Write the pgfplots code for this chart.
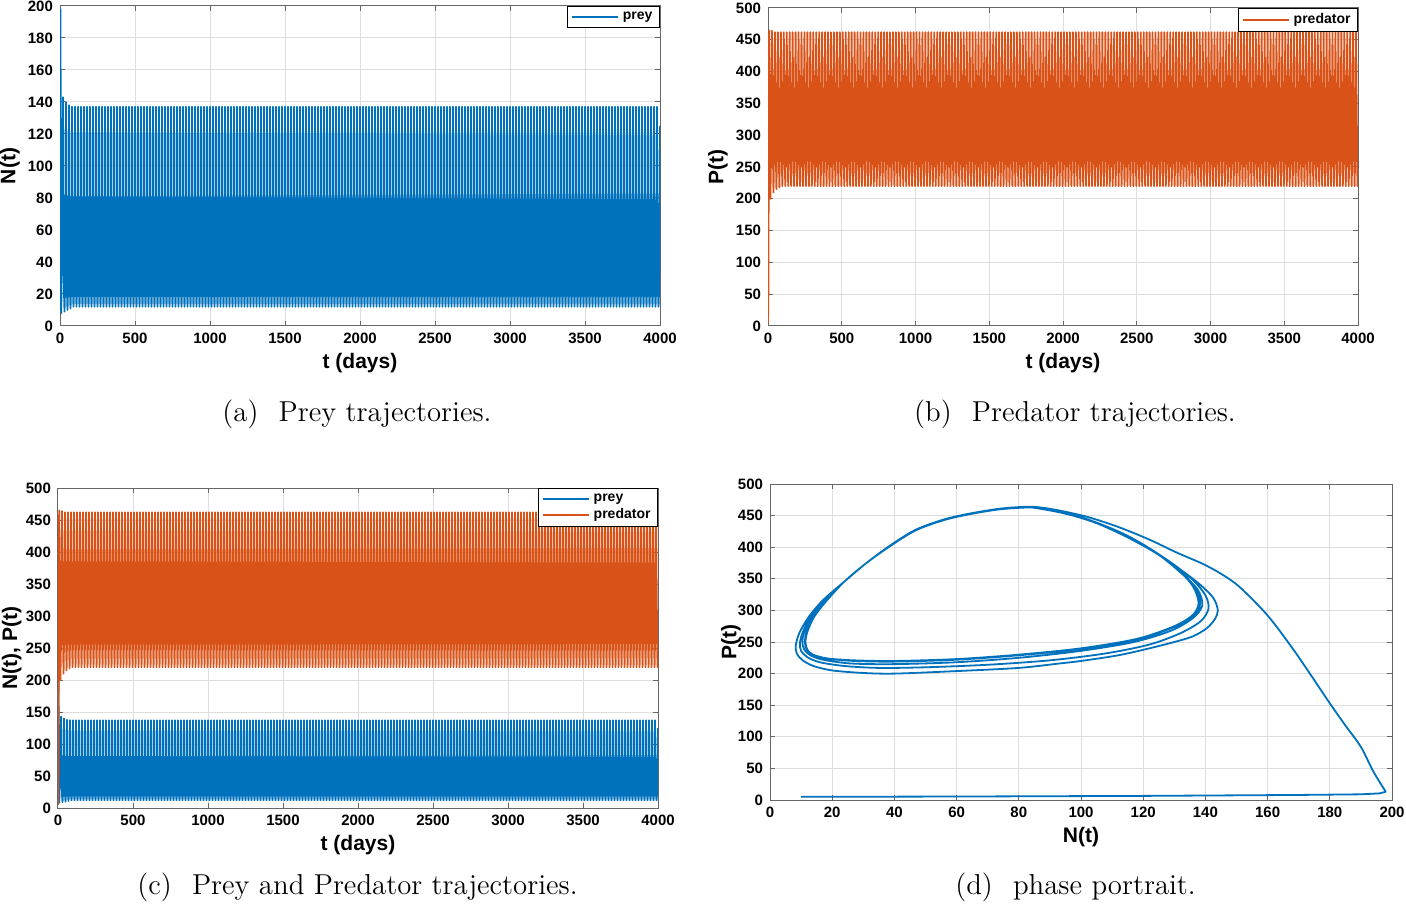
\documentclass[border=0pt]{standalone}
\usepackage{pgfplots}
\usepackage{pgfplotstable}
\pgfplotsset{compat=1.18}
\usepackage{fontspec}
\newfontfamily\hv{Liberation Sans}
\newcommand\fticks{\hv\bfseries\fontsize{7.5}{9}\selectfont}
\newcommand\flabel{\hv\bfseries\fontsize{10.5}{12}\selectfont}
\newcommand\flegend{\hv\bfseries\fontsize{7}{8}\selectfont}
\definecolor{mblue}{RGB}{0,114,189}
\definecolor{morange}{RGB}{217,83,25}

% prey N(t)
\pgfplotstableread[row sep=\\]{
t y\\
0 10\\ 3 198\\ 8 8\\ 16 65\\ 20 143\\ 23 65\\ 27 20\\ 30 9\\ 33 20\\ 37 65\\ 40 140\\ 43 65\\ 47 20\\ 50 10\\ 53 20\\ 57 65\\ 60 138\\ 63 65\\ 67 20\\ 70 11\\ 73 20\\ 77 65\\ 80 137\\ 83 65\\ 87 20\\ 90 12\\ 93 20\\ 97 65\\
100 137\\ 103 65\\ 107 20\\ 110 12\\ 113 20\\ 117 65\\ 120 137\\ 123 65\\ 127 20\\ 130 12\\ 133 20\\ 137 65\\ 140 137\\ 143 65\\ 147 20\\ 150 12\\ 153 20\\ 157 65\\ 160 137\\ 163 65\\ 167 20\\ 170 12\\ 173 20\\ 177 65\\ 180 137\\ 183 65\\ 187 20\\ 190 12\\ 193 20\\ 197 65\\
200 137\\ 203 65\\ 207 20\\ 210 12\\ 213 20\\ 217 65\\ 220 137\\ 223 65\\ 227 20\\ 230 12\\ 233 20\\ 237 65\\ 240 137\\ 243 65\\ 247 20\\ 250 12\\ 253 20\\ 257 65\\ 260 137\\ 263 65\\ 267 20\\ 270 12\\ 273 20\\ 277 65\\ 280 137\\ 283 65\\ 287 20\\ 290 12\\ 293 20\\ 297 65\\
300 137\\ 303 65\\ 307 20\\ 310 12\\ 313 20\\ 317 65\\ 320 137\\ 323 65\\ 327 20\\ 330 12\\ 333 20\\ 337 65\\ 340 137\\ 343 65\\ 347 20\\ 350 12\\ 353 20\\ 357 65\\ 360 137\\ 363 65\\ 367 20\\ 370 12\\ 373 20\\ 377 65\\ 380 137\\ 383 65\\ 387 20\\ 390 12\\ 393 20\\ 397 65\\
400 137\\ 403 65\\ 407 20\\ 410 12\\ 413 20\\ 417 65\\ 420 137\\ 423 65\\ 427 20\\ 430 12\\ 433 20\\ 437 65\\ 440 137\\ 443 65\\ 447 20\\ 450 12\\ 453 20\\ 457 65\\ 460 137\\ 463 65\\ 467 20\\ 470 12\\ 473 20\\ 477 65\\ 480 137\\ 483 65\\ 487 20\\ 490 12\\ 493 20\\ 497 65\\
500 137\\ 503 65\\ 507 20\\ 510 12\\ 513 20\\ 517 65\\ 520 137\\ 523 65\\ 527 20\\ 530 12\\ 533 20\\ 537 65\\ 540 137\\ 543 65\\ 547 20\\ 550 12\\ 553 20\\ 557 65\\ 560 137\\ 563 65\\ 567 20\\ 570 12\\ 573 20\\ 577 65\\ 580 137\\ 583 65\\ 587 20\\ 590 12\\ 593 20\\ 597 65\\
600 137\\ 603 65\\ 607 20\\ 610 12\\ 613 20\\ 617 65\\ 620 137\\ 623 65\\ 627 20\\ 630 12\\ 633 20\\ 637 65\\ 640 137\\ 643 65\\ 647 20\\ 650 12\\ 653 20\\ 657 65\\ 660 137\\ 663 65\\ 667 20\\ 670 12\\ 673 20\\ 677 65\\ 680 137\\ 683 65\\ 687 20\\ 690 12\\ 693 20\\ 697 65\\
700 137\\ 703 65\\ 707 20\\ 710 12\\ 713 20\\ 717 65\\ 720 137\\ 723 65\\ 727 20\\ 730 12\\ 733 20\\ 737 65\\ 740 137\\ 743 65\\ 747 20\\ 750 12\\ 753 20\\ 757 65\\ 760 137\\ 763 65\\ 767 20\\ 770 12\\ 773 20\\ 777 65\\ 780 137\\ 783 65\\ 787 20\\ 790 12\\ 793 20\\ 797 65\\
800 137\\ 803 65\\ 807 20\\ 810 12\\ 813 20\\ 817 65\\ 820 137\\ 823 65\\ 827 20\\ 830 12\\ 833 20\\ 837 65\\ 840 137\\ 843 65\\ 847 20\\ 850 12\\ 853 20\\ 857 65\\ 860 137\\ 863 65\\ 867 20\\ 870 12\\ 873 20\\ 877 65\\ 880 137\\ 883 65\\ 887 20\\ 890 12\\ 893 20\\ 897 65\\
900 137\\ 903 65\\ 907 20\\ 910 12\\ 913 20\\ 917 65\\ 920 137\\ 923 65\\ 927 20\\ 930 12\\ 933 20\\ 937 65\\ 940 137\\ 943 65\\ 947 20\\ 950 12\\ 953 20\\ 957 65\\ 960 137\\ 963 65\\ 967 20\\ 970 12\\ 973 20\\ 977 65\\ 980 137\\ 983 65\\ 987 20\\ 990 12\\ 993 20\\ 997 65\\
1000 137\\ 1003 65\\ 1007 20\\ 1010 12\\ 1013 20\\ 1017 65\\ 1020 137\\ 1023 65\\ 1027 20\\ 1030 12\\ 1033 20\\ 1037 65\\ 1040 137\\ 1043 65\\ 1047 20\\ 1050 12\\ 1053 20\\ 1057 65\\ 1060 137\\ 1063 65\\ 1067 20\\ 1070 12\\ 1073 20\\ 1077 65\\ 1080 137\\ 1083 65\\ 1087 20\\ 1090 12\\ 1093 20\\ 1097 65\\
1100 137\\ 1103 65\\ 1107 20\\ 1110 12\\ 1113 20\\ 1117 65\\ 1120 137\\ 1123 65\\ 1127 20\\ 1130 12\\ 1133 20\\ 1137 65\\ 1140 137\\ 1143 65\\ 1147 20\\ 1150 12\\ 1153 20\\ 1157 65\\ 1160 137\\ 1163 65\\ 1167 20\\ 1170 12\\ 1173 20\\ 1177 65\\ 1180 137\\ 1183 65\\ 1187 20\\ 1190 12\\ 1193 20\\ 1197 65\\
1200 137\\ 1203 65\\ 1207 20\\ 1210 12\\ 1213 20\\ 1217 65\\ 1220 137\\ 1223 65\\ 1227 20\\ 1230 12\\ 1233 20\\ 1237 65\\ 1240 137\\ 1243 65\\ 1247 20\\ 1250 12\\ 1253 20\\ 1257 65\\ 1260 137\\ 1263 65\\ 1267 20\\ 1270 12\\ 1273 20\\ 1277 65\\ 1280 137\\ 1283 65\\ 1287 20\\ 1290 12\\ 1293 20\\ 1297 65\\
1300 137\\ 1303 65\\ 1307 20\\ 1310 12\\ 1313 20\\ 1317 65\\ 1320 137\\ 1323 65\\ 1327 20\\ 1330 12\\ 1333 20\\ 1337 65\\ 1340 137\\ 1343 65\\ 1347 20\\ 1350 12\\ 1353 20\\ 1357 65\\ 1360 137\\ 1363 65\\ 1367 20\\ 1370 12\\ 1373 20\\ 1377 65\\ 1380 137\\ 1383 65\\ 1387 20\\ 1390 12\\ 1393 20\\ 1397 65\\
1400 137\\ 1403 65\\ 1407 20\\ 1410 12\\ 1413 20\\ 1417 65\\ 1420 137\\ 1423 65\\ 1427 20\\ 1430 12\\ 1433 20\\ 1437 65\\ 1440 137\\ 1443 65\\ 1447 20\\ 1450 12\\ 1453 20\\ 1457 65\\ 1460 137\\ 1463 65\\ 1467 20\\ 1470 12\\ 1473 20\\ 1477 65\\ 1480 137\\ 1483 65\\ 1487 20\\ 1490 12\\ 1493 20\\ 1497 65\\
1500 137\\ 1503 65\\ 1507 20\\ 1510 12\\ 1513 20\\ 1517 65\\ 1520 137\\ 1523 65\\ 1527 20\\ 1530 12\\ 1533 20\\ 1537 65\\ 1540 137\\ 1543 65\\ 1547 20\\ 1550 12\\ 1553 20\\ 1557 65\\ 1560 137\\ 1563 65\\ 1567 20\\ 1570 12\\ 1573 20\\ 1577 65\\ 1580 137\\ 1583 65\\ 1587 20\\ 1590 12\\ 1593 20\\ 1597 65\\
1600 137\\ 1603 65\\ 1607 20\\ 1610 12\\ 1613 20\\ 1617 65\\ 1620 137\\ 1623 65\\ 1627 20\\ 1630 12\\ 1633 20\\ 1637 65\\ 1640 137\\ 1643 65\\ 1647 20\\ 1650 12\\ 1653 20\\ 1657 65\\ 1660 137\\ 1663 65\\ 1667 20\\ 1670 12\\ 1673 20\\ 1677 65\\ 1680 137\\ 1683 65\\ 1687 20\\ 1690 12\\ 1693 20\\ 1697 65\\
1700 137\\ 1703 65\\ 1707 20\\ 1710 12\\ 1713 20\\ 1717 65\\ 1720 137\\ 1723 65\\ 1727 20\\ 1730 12\\ 1733 20\\ 1737 65\\ 1740 137\\ 1743 65\\ 1747 20\\ 1750 12\\ 1753 20\\ 1757 65\\ 1760 137\\ 1763 65\\ 1767 20\\ 1770 12\\ 1773 20\\ 1777 65\\ 1780 137\\ 1783 65\\ 1787 20\\ 1790 12\\ 1793 20\\ 1797 65\\
1800 137\\ 1803 65\\ 1807 20\\ 1810 12\\ 1813 20\\ 1817 65\\ 1820 137\\ 1823 65\\ 1827 20\\ 1830 12\\ 1833 20\\ 1837 65\\ 1840 137\\ 1843 65\\ 1847 20\\ 1850 12\\ 1853 20\\ 1857 65\\ 1860 137\\ 1863 65\\ 1867 20\\ 1870 12\\ 1873 20\\ 1877 65\\ 1880 137\\ 1883 65\\ 1887 20\\ 1890 12\\ 1893 20\\ 1897 65\\
1900 137\\ 1903 65\\ 1907 20\\ 1910 12\\ 1913 20\\ 1917 65\\ 1920 137\\ 1923 65\\ 1927 20\\ 1930 12\\ 1933 20\\ 1937 65\\ 1940 137\\ 1943 65\\ 1947 20\\ 1950 12\\ 1953 20\\ 1957 65\\ 1960 137\\ 1963 65\\ 1967 20\\ 1970 12\\ 1973 20\\ 1977 65\\ 1980 137\\ 1983 65\\ 1987 20\\ 1990 12\\ 1993 20\\ 1997 65\\
2000 137\\ 2003 65\\ 2007 20\\ 2010 12\\ 2013 20\\ 2017 65\\ 2020 137\\ 2023 65\\ 2027 20\\ 2030 12\\ 2033 20\\ 2037 65\\ 2040 137\\ 2043 65\\ 2047 20\\ 2050 12\\ 2053 20\\ 2057 65\\ 2060 137\\ 2063 65\\ 2067 20\\ 2070 12\\ 2073 20\\ 2077 65\\ 2080 137\\ 2083 65\\ 2087 20\\ 2090 12\\ 2093 20\\ 2097 65\\
2100 137\\ 2103 65\\ 2107 20\\ 2110 12\\ 2113 20\\ 2117 65\\ 2120 137\\ 2123 65\\ 2127 20\\ 2130 12\\ 2133 20\\ 2137 65\\ 2140 137\\ 2143 65\\ 2147 20\\ 2150 12\\ 2153 20\\ 2157 65\\ 2160 137\\ 2163 65\\ 2167 20\\ 2170 12\\ 2173 20\\ 2177 65\\ 2180 137\\ 2183 65\\ 2187 20\\ 2190 12\\ 2193 20\\ 2197 65\\
2200 137\\ 2203 65\\ 2207 20\\ 2210 12\\ 2213 20\\ 2217 65\\ 2220 137\\ 2223 65\\ 2227 20\\ 2230 12\\ 2233 20\\ 2237 65\\ 2240 137\\ 2243 65\\ 2247 20\\ 2250 12\\ 2253 20\\ 2257 65\\ 2260 137\\ 2263 65\\ 2267 20\\ 2270 12\\ 2273 20\\ 2277 65\\ 2280 137\\ 2283 65\\ 2287 20\\ 2290 12\\ 2293 20\\ 2297 65\\
2300 137\\ 2303 65\\ 2307 20\\ 2310 12\\ 2313 20\\ 2317 65\\ 2320 137\\ 2323 65\\ 2327 20\\ 2330 12\\ 2333 20\\ 2337 65\\ 2340 137\\ 2343 65\\ 2347 20\\ 2350 12\\ 2353 20\\ 2357 65\\ 2360 137\\ 2363 65\\ 2367 20\\ 2370 12\\ 2373 20\\ 2377 65\\ 2380 137\\ 2383 65\\ 2387 20\\ 2390 12\\ 2393 20\\ 2397 65\\
2400 137\\ 2403 65\\ 2407 20\\ 2410 12\\ 2413 20\\ 2417 65\\ 2420 137\\ 2423 65\\ 2427 20\\ 2430 12\\ 2433 20\\ 2437 65\\ 2440 137\\ 2443 65\\ 2447 20\\ 2450 12\\ 2453 20\\ 2457 65\\ 2460 137\\ 2463 65\\ 2467 20\\ 2470 12\\ 2473 20\\ 2477 65\\ 2480 137\\ 2483 65\\ 2487 20\\ 2490 12\\ 2493 20\\ 2497 65\\
2500 137\\ 2503 65\\ 2507 20\\ 2510 12\\ 2513 20\\ 2517 65\\ 2520 137\\ 2523 65\\ 2527 20\\ 2530 12\\ 2533 20\\ 2537 65\\ 2540 137\\ 2543 65\\ 2547 20\\ 2550 12\\ 2553 20\\ 2557 65\\ 2560 137\\ 2563 65\\ 2567 20\\ 2570 12\\ 2573 20\\ 2577 65\\ 2580 137\\ 2583 65\\ 2587 20\\ 2590 12\\ 2593 20\\ 2597 65\\
2600 137\\ 2603 65\\ 2607 20\\ 2610 12\\ 2613 20\\ 2617 65\\ 2620 137\\ 2623 65\\ 2627 20\\ 2630 12\\ 2633 20\\ 2637 65\\ 2640 137\\ 2643 65\\ 2647 20\\ 2650 12\\ 2653 20\\ 2657 65\\ 2660 137\\ 2663 65\\ 2667 20\\ 2670 12\\ 2673 20\\ 2677 65\\ 2680 137\\ 2683 65\\ 2687 20\\ 2690 12\\ 2693 20\\ 2697 65\\
2700 137\\ 2703 65\\ 2707 20\\ 2710 12\\ 2713 20\\ 2717 65\\ 2720 137\\ 2723 65\\ 2727 20\\ 2730 12\\ 2733 20\\ 2737 65\\ 2740 137\\ 2743 65\\ 2747 20\\ 2750 12\\ 2753 20\\ 2757 65\\ 2760 137\\ 2763 65\\ 2767 20\\ 2770 12\\ 2773 20\\ 2777 65\\ 2780 137\\ 2783 65\\ 2787 20\\ 2790 12\\ 2793 20\\ 2797 65\\
2800 137\\ 2803 65\\ 2807 20\\ 2810 12\\ 2813 20\\ 2817 65\\ 2820 137\\ 2823 65\\ 2827 20\\ 2830 12\\ 2833 20\\ 2837 65\\ 2840 137\\ 2843 65\\ 2847 20\\ 2850 12\\ 2853 20\\ 2857 65\\ 2860 137\\ 2863 65\\ 2867 20\\ 2870 12\\ 2873 20\\ 2877 65\\ 2880 137\\ 2883 65\\ 2887 20\\ 2890 12\\ 2893 20\\ 2897 65\\
2900 137\\ 2903 65\\ 2907 20\\ 2910 12\\ 2913 20\\ 2917 65\\ 2920 137\\ 2923 65\\ 2927 20\\ 2930 12\\ 2933 20\\ 2937 65\\ 2940 137\\ 2943 65\\ 2947 20\\ 2950 12\\ 2953 20\\ 2957 65\\ 2960 137\\ 2963 65\\ 2967 20\\ 2970 12\\ 2973 20\\ 2977 65\\ 2980 137\\ 2983 65\\ 2987 20\\ 2990 12\\ 2993 20\\ 2997 65\\
3000 137\\ 3003 65\\ 3007 20\\ 3010 12\\ 3013 20\\ 3017 65\\ 3020 137\\ 3023 65\\ 3027 20\\ 3030 12\\ 3033 20\\ 3037 65\\ 3040 137\\ 3043 65\\ 3047 20\\ 3050 12\\ 3053 20\\ 3057 65\\ 3060 137\\ 3063 65\\ 3067 20\\ 3070 12\\ 3073 20\\ 3077 65\\ 3080 137\\ 3083 65\\ 3087 20\\ 3090 12\\ 3093 20\\ 3097 65\\
3100 137\\ 3103 65\\ 3107 20\\ 3110 12\\ 3113 20\\ 3117 65\\ 3120 137\\ 3123 65\\ 3127 20\\ 3130 12\\ 3133 20\\ 3137 65\\ 3140 137\\ 3143 65\\ 3147 20\\ 3150 12\\ 3153 20\\ 3157 65\\ 3160 137\\ 3163 65\\ 3167 20\\ 3170 12\\ 3173 20\\ 3177 65\\ 3180 137\\ 3183 65\\ 3187 20\\ 3190 12\\ 3193 20\\ 3197 65\\
3200 137\\ 3203 65\\ 3207 20\\ 3210 12\\ 3213 20\\ 3217 65\\ 3220 137\\ 3223 65\\ 3227 20\\ 3230 12\\ 3233 20\\ 3237 65\\ 3240 137\\ 3243 65\\ 3247 20\\ 3250 12\\ 3253 20\\ 3257 65\\ 3260 137\\ 3263 65\\ 3267 20\\ 3270 12\\ 3273 20\\ 3277 65\\ 3280 137\\ 3283 65\\ 3287 20\\ 3290 12\\ 3293 20\\ 3297 65\\
3300 137\\ 3303 65\\ 3307 20\\ 3310 12\\ 3313 20\\ 3317 65\\ 3320 137\\ 3323 65\\ 3327 20\\ 3330 12\\ 3333 20\\ 3337 65\\ 3340 137\\ 3343 65\\ 3347 20\\ 3350 12\\ 3353 20\\ 3357 65\\ 3360 137\\ 3363 65\\ 3367 20\\ 3370 12\\ 3373 20\\ 3377 65\\ 3380 137\\ 3383 65\\ 3387 20\\ 3390 12\\ 3393 20\\ 3397 65\\
3400 137\\ 3403 65\\ 3407 20\\ 3410 12\\ 3413 20\\ 3417 65\\ 3420 137\\ 3423 65\\ 3427 20\\ 3430 12\\ 3433 20\\ 3437 65\\ 3440 137\\ 3443 65\\ 3447 20\\ 3450 12\\ 3453 20\\ 3457 65\\ 3460 137\\ 3463 65\\ 3467 20\\ 3470 12\\ 3473 20\\ 3477 65\\ 3480 137\\ 3483 65\\ 3487 20\\ 3490 12\\ 3493 20\\ 3497 65\\
3500 137\\ 3503 65\\ 3507 20\\ 3510 12\\ 3513 20\\ 3517 65\\ 3520 137\\ 3523 65\\ 3527 20\\ 3530 12\\ 3533 20\\ 3537 65\\ 3540 137\\ 3543 65\\ 3547 20\\ 3550 12\\ 3553 20\\ 3557 65\\ 3560 137\\ 3563 65\\ 3567 20\\ 3570 12\\ 3573 20\\ 3577 65\\ 3580 137\\ 3583 65\\ 3587 20\\ 3590 12\\ 3593 20\\ 3597 65\\
3600 137\\ 3603 65\\ 3607 20\\ 3610 12\\ 3613 20\\ 3617 65\\ 3620 137\\ 3623 65\\ 3627 20\\ 3630 12\\ 3633 20\\ 3637 65\\ 3640 137\\ 3643 65\\ 3647 20\\ 3650 12\\ 3653 20\\ 3657 65\\ 3660 137\\ 3663 65\\ 3667 20\\ 3670 12\\ 3673 20\\ 3677 65\\ 3680 137\\ 3683 65\\ 3687 20\\ 3690 12\\ 3693 20\\ 3697 65\\
3700 137\\ 3703 65\\ 3707 20\\ 3710 12\\ 3713 20\\ 3717 65\\ 3720 137\\ 3723 65\\ 3727 20\\ 3730 12\\ 3733 20\\ 3737 65\\ 3740 137\\ 3743 65\\ 3747 20\\ 3750 12\\ 3753 20\\ 3757 65\\ 3760 137\\ 3763 65\\ 3767 20\\ 3770 12\\ 3773 20\\ 3777 65\\ 3780 137\\ 3783 65\\ 3787 20\\ 3790 12\\ 3793 20\\ 3797 65\\
3800 137\\ 3803 65\\ 3807 20\\ 3810 12\\ 3813 20\\ 3817 65\\ 3820 137\\ 3823 65\\ 3827 20\\ 3830 12\\ 3833 20\\ 3837 65\\ 3840 137\\ 3843 65\\ 3847 20\\ 3850 12\\ 3853 20\\ 3857 65\\ 3860 137\\ 3863 65\\ 3867 20\\ 3870 12\\ 3873 20\\ 3877 65\\ 3880 137\\ 3883 65\\ 3887 20\\ 3890 12\\ 3893 20\\ 3897 65\\
3900 137\\ 3903 65\\ 3907 20\\ 3910 12\\ 3913 20\\ 3917 65\\ 3920 137\\ 3923 65\\ 3927 20\\ 3930 12\\ 3933 20\\ 3937 65\\ 3940 137\\ 3943 65\\ 3947 20\\ 3950 12\\ 3953 20\\ 3957 65\\ 3960 137\\ 3963 65\\ 3967 20\\ 3970 12\\ 3973 20\\ 3977 65\\ 3980 137\\ 3983 65\\ 3987 20\\ 3990 12\\ 3993 20\\ 3997 65\\
4000 125\\
}\preytab

% predator P(t)
\pgfplotstableread[row sep=\\]{
t y\\
0 5\\ 3 60\\ 6 420\\ 8 465\\ 13 260\\ 16 200\\ 20 260\\ 27 464\\ 34 260\\ 37 210\\ 40 260\\ 47 462\\ 54 260\\ 57 215\\ 60 260\\ 67 462\\ 74 260\\ 77 218\\ 80 260\\ 87 462\\ 94 260\\ 97 220\\
100 260\\ 107 462\\ 114 260\\ 117 220\\ 120 260\\ 127 462\\ 134 260\\ 137 220\\ 140 260\\ 147 462\\ 154 260\\ 157 220\\ 160 260\\ 167 462\\ 174 260\\ 177 220\\ 180 260\\ 187 462\\ 194 260\\ 197 220\\
200 260\\ 207 462\\ 214 260\\ 217 220\\ 220 260\\ 227 462\\ 234 260\\ 237 220\\ 240 260\\ 247 462\\ 254 260\\ 257 220\\ 260 260\\ 267 462\\ 274 260\\ 277 220\\ 280 260\\ 287 462\\ 294 260\\ 297 220\\
300 260\\ 307 462\\ 314 260\\ 317 220\\ 320 260\\ 327 462\\ 334 260\\ 337 220\\ 340 260\\ 347 462\\ 354 260\\ 357 220\\ 360 260\\ 367 462\\ 374 260\\ 377 220\\ 380 260\\ 387 462\\ 394 260\\ 397 220\\
400 260\\ 407 462\\ 414 260\\ 417 220\\ 420 260\\ 427 462\\ 434 260\\ 437 220\\ 440 260\\ 447 462\\ 454 260\\ 457 220\\ 460 260\\ 467 462\\ 474 260\\ 477 220\\ 480 260\\ 487 462\\ 494 260\\ 497 220\\
500 260\\ 507 462\\ 514 260\\ 517 220\\ 520 260\\ 527 462\\ 534 260\\ 537 220\\ 540 260\\ 547 462\\ 554 260\\ 557 220\\ 560 260\\ 567 462\\ 574 260\\ 577 220\\ 580 260\\ 587 462\\ 594 260\\ 597 220\\
600 260\\ 607 462\\ 614 260\\ 617 220\\ 620 260\\ 627 462\\ 634 260\\ 637 220\\ 640 260\\ 647 462\\ 654 260\\ 657 220\\ 660 260\\ 667 462\\ 674 260\\ 677 220\\ 680 260\\ 687 462\\ 694 260\\ 697 220\\
700 260\\ 707 462\\ 714 260\\ 717 220\\ 720 260\\ 727 462\\ 734 260\\ 737 220\\ 740 260\\ 747 462\\ 754 260\\ 757 220\\ 760 260\\ 767 462\\ 774 260\\ 777 220\\ 780 260\\ 787 462\\ 794 260\\ 797 220\\
800 260\\ 807 462\\ 814 260\\ 817 220\\ 820 260\\ 827 462\\ 834 260\\ 837 220\\ 840 260\\ 847 462\\ 854 260\\ 857 220\\ 860 260\\ 867 462\\ 874 260\\ 877 220\\ 880 260\\ 887 462\\ 894 260\\ 897 220\\
900 260\\ 907 462\\ 914 260\\ 917 220\\ 920 260\\ 927 462\\ 934 260\\ 937 220\\ 940 260\\ 947 462\\ 954 260\\ 957 220\\ 960 260\\ 967 462\\ 974 260\\ 977 220\\ 980 260\\ 987 462\\ 994 260\\ 997 220\\
1000 260\\ 1007 462\\ 1014 260\\ 1017 220\\ 1020 260\\ 1027 462\\ 1034 260\\ 1037 220\\ 1040 260\\ 1047 462\\ 1054 260\\ 1057 220\\ 1060 260\\ 1067 462\\ 1074 260\\ 1077 220\\ 1080 260\\ 1087 462\\ 1094 260\\ 1097 220\\
1100 260\\ 1107 462\\ 1114 260\\ 1117 220\\ 1120 260\\ 1127 462\\ 1134 260\\ 1137 220\\ 1140 260\\ 1147 462\\ 1154 260\\ 1157 220\\ 1160 260\\ 1167 462\\ 1174 260\\ 1177 220\\ 1180 260\\ 1187 462\\ 1194 260\\ 1197 220\\
1200 260\\ 1207 462\\ 1214 260\\ 1217 220\\ 1220 260\\ 1227 462\\ 1234 260\\ 1237 220\\ 1240 260\\ 1247 462\\ 1254 260\\ 1257 220\\ 1260 260\\ 1267 462\\ 1274 260\\ 1277 220\\ 1280 260\\ 1287 462\\ 1294 260\\ 1297 220\\
1300 260\\ 1307 462\\ 1314 260\\ 1317 220\\ 1320 260\\ 1327 462\\ 1334 260\\ 1337 220\\ 1340 260\\ 1347 462\\ 1354 260\\ 1357 220\\ 1360 260\\ 1367 462\\ 1374 260\\ 1377 220\\ 1380 260\\ 1387 462\\ 1394 260\\ 1397 220\\
1400 260\\ 1407 462\\ 1414 260\\ 1417 220\\ 1420 260\\ 1427 462\\ 1434 260\\ 1437 220\\ 1440 260\\ 1447 462\\ 1454 260\\ 1457 220\\ 1460 260\\ 1467 462\\ 1474 260\\ 1477 220\\ 1480 260\\ 1487 462\\ 1494 260\\ 1497 220\\
1500 260\\ 1507 462\\ 1514 260\\ 1517 220\\ 1520 260\\ 1527 462\\ 1534 260\\ 1537 220\\ 1540 260\\ 1547 462\\ 1554 260\\ 1557 220\\ 1560 260\\ 1567 462\\ 1574 260\\ 1577 220\\ 1580 260\\ 1587 462\\ 1594 260\\ 1597 220\\
1600 260\\ 1607 462\\ 1614 260\\ 1617 220\\ 1620 260\\ 1627 462\\ 1634 260\\ 1637 220\\ 1640 260\\ 1647 462\\ 1654 260\\ 1657 220\\ 1660 260\\ 1667 462\\ 1674 260\\ 1677 220\\ 1680 260\\ 1687 462\\ 1694 260\\ 1697 220\\
1700 260\\ 1707 462\\ 1714 260\\ 1717 220\\ 1720 260\\ 1727 462\\ 1734 260\\ 1737 220\\ 1740 260\\ 1747 462\\ 1754 260\\ 1757 220\\ 1760 260\\ 1767 462\\ 1774 260\\ 1777 220\\ 1780 260\\ 1787 462\\ 1794 260\\ 1797 220\\
1800 260\\ 1807 462\\ 1814 260\\ 1817 220\\ 1820 260\\ 1827 462\\ 1834 260\\ 1837 220\\ 1840 260\\ 1847 462\\ 1854 260\\ 1857 220\\ 1860 260\\ 1867 462\\ 1874 260\\ 1877 220\\ 1880 260\\ 1887 462\\ 1894 260\\ 1897 220\\
1900 260\\ 1907 462\\ 1914 260\\ 1917 220\\ 1920 260\\ 1927 462\\ 1934 260\\ 1937 220\\ 1940 260\\ 1947 462\\ 1954 260\\ 1957 220\\ 1960 260\\ 1967 462\\ 1974 260\\ 1977 220\\ 1980 260\\ 1987 462\\ 1994 260\\ 1997 220\\
2000 260\\ 2007 462\\ 2014 260\\ 2017 220\\ 2020 260\\ 2027 462\\ 2034 260\\ 2037 220\\ 2040 260\\ 2047 462\\ 2054 260\\ 2057 220\\ 2060 260\\ 2067 462\\ 2074 260\\ 2077 220\\ 2080 260\\ 2087 462\\ 2094 260\\ 2097 220\\
2100 260\\ 2107 462\\ 2114 260\\ 2117 220\\ 2120 260\\ 2127 462\\ 2134 260\\ 2137 220\\ 2140 260\\ 2147 462\\ 2154 260\\ 2157 220\\ 2160 260\\ 2167 462\\ 2174 260\\ 2177 220\\ 2180 260\\ 2187 462\\ 2194 260\\ 2197 220\\
2200 260\\ 2207 462\\ 2214 260\\ 2217 220\\ 2220 260\\ 2227 462\\ 2234 260\\ 2237 220\\ 2240 260\\ 2247 462\\ 2254 260\\ 2257 220\\ 2260 260\\ 2267 462\\ 2274 260\\ 2277 220\\ 2280 260\\ 2287 462\\ 2294 260\\ 2297 220\\
2300 260\\ 2307 462\\ 2314 260\\ 2317 220\\ 2320 260\\ 2327 462\\ 2334 260\\ 2337 220\\ 2340 260\\ 2347 462\\ 2354 260\\ 2357 220\\ 2360 260\\ 2367 462\\ 2374 260\\ 2377 220\\ 2380 260\\ 2387 462\\ 2394 260\\ 2397 220\\
2400 260\\ 2407 462\\ 2414 260\\ 2417 220\\ 2420 260\\ 2427 462\\ 2434 260\\ 2437 220\\ 2440 260\\ 2447 462\\ 2454 260\\ 2457 220\\ 2460 260\\ 2467 462\\ 2474 260\\ 2477 220\\ 2480 260\\ 2487 462\\ 2494 260\\ 2497 220\\
2500 260\\ 2507 462\\ 2514 260\\ 2517 220\\ 2520 260\\ 2527 462\\ 2534 260\\ 2537 220\\ 2540 260\\ 2547 462\\ 2554 260\\ 2557 220\\ 2560 260\\ 2567 462\\ 2574 260\\ 2577 220\\ 2580 260\\ 2587 462\\ 2594 260\\ 2597 220\\
2600 260\\ 2607 462\\ 2614 260\\ 2617 220\\ 2620 260\\ 2627 462\\ 2634 260\\ 2637 220\\ 2640 260\\ 2647 462\\ 2654 260\\ 2657 220\\ 2660 260\\ 2667 462\\ 2674 260\\ 2677 220\\ 2680 260\\ 2687 462\\ 2694 260\\ 2697 220\\
2700 260\\ 2707 462\\ 2714 260\\ 2717 220\\ 2720 260\\ 2727 462\\ 2734 260\\ 2737 220\\ 2740 260\\ 2747 462\\ 2754 260\\ 2757 220\\ 2760 260\\ 2767 462\\ 2774 260\\ 2777 220\\ 2780 260\\ 2787 462\\ 2794 260\\ 2797 220\\
2800 260\\ 2807 462\\ 2814 260\\ 2817 220\\ 2820 260\\ 2827 462\\ 2834 260\\ 2837 220\\ 2840 260\\ 2847 462\\ 2854 260\\ 2857 220\\ 2860 260\\ 2867 462\\ 2874 260\\ 2877 220\\ 2880 260\\ 2887 462\\ 2894 260\\ 2897 220\\
2900 260\\ 2907 462\\ 2914 260\\ 2917 220\\ 2920 260\\ 2927 462\\ 2934 260\\ 2937 220\\ 2940 260\\ 2947 462\\ 2954 260\\ 2957 220\\ 2960 260\\ 2967 462\\ 2974 260\\ 2977 220\\ 2980 260\\ 2987 462\\ 2994 260\\ 2997 220\\
3000 260\\ 3007 462\\ 3014 260\\ 3017 220\\ 3020 260\\ 3027 462\\ 3034 260\\ 3037 220\\ 3040 260\\ 3047 462\\ 3054 260\\ 3057 220\\ 3060 260\\ 3067 462\\ 3074 260\\ 3077 220\\ 3080 260\\ 3087 462\\ 3094 260\\ 3097 220\\
3100 260\\ 3107 462\\ 3114 260\\ 3117 220\\ 3120 260\\ 3127 462\\ 3134 260\\ 3137 220\\ 3140 260\\ 3147 462\\ 3154 260\\ 3157 220\\ 3160 260\\ 3167 462\\ 3174 260\\ 3177 220\\ 3180 260\\ 3187 462\\ 3194 260\\ 3197 220\\
3200 260\\ 3207 462\\ 3214 260\\ 3217 220\\ 3220 260\\ 3227 462\\ 3234 260\\ 3237 220\\ 3240 260\\ 3247 462\\ 3254 260\\ 3257 220\\ 3260 260\\ 3267 462\\ 3274 260\\ 3277 220\\ 3280 260\\ 3287 462\\ 3294 260\\ 3297 220\\
3300 260\\ 3307 462\\ 3314 260\\ 3317 220\\ 3320 260\\ 3327 462\\ 3334 260\\ 3337 220\\ 3340 260\\ 3347 462\\ 3354 260\\ 3357 220\\ 3360 260\\ 3367 462\\ 3374 260\\ 3377 220\\ 3380 260\\ 3387 462\\ 3394 260\\ 3397 220\\
3400 260\\ 3407 462\\ 3414 260\\ 3417 220\\ 3420 260\\ 3427 462\\ 3434 260\\ 3437 220\\ 3440 260\\ 3447 462\\ 3454 260\\ 3457 220\\ 3460 260\\ 3467 462\\ 3474 260\\ 3477 220\\ 3480 260\\ 3487 462\\ 3494 260\\ 3497 220\\
3500 260\\ 3507 462\\ 3514 260\\ 3517 220\\ 3520 260\\ 3527 462\\ 3534 260\\ 3537 220\\ 3540 260\\ 3547 462\\ 3554 260\\ 3557 220\\ 3560 260\\ 3567 462\\ 3574 260\\ 3577 220\\ 3580 260\\ 3587 462\\ 3594 260\\ 3597 220\\
3600 260\\ 3607 462\\ 3614 260\\ 3617 220\\ 3620 260\\ 3627 462\\ 3634 260\\ 3637 220\\ 3640 260\\ 3647 462\\ 3654 260\\ 3657 220\\ 3660 260\\ 3667 462\\ 3674 260\\ 3677 220\\ 3680 260\\ 3687 462\\ 3694 260\\ 3697 220\\
3700 260\\ 3707 462\\ 3714 260\\ 3717 220\\ 3720 260\\ 3727 462\\ 3734 260\\ 3737 220\\ 3740 260\\ 3747 462\\ 3754 260\\ 3757 220\\ 3760 260\\ 3767 462\\ 3774 260\\ 3777 220\\ 3780 260\\ 3787 462\\ 3794 260\\ 3797 220\\
3800 260\\ 3807 462\\ 3814 260\\ 3817 220\\ 3820 260\\ 3827 462\\ 3834 260\\ 3837 220\\ 3840 260\\ 3847 462\\ 3854 260\\ 3857 220\\ 3860 260\\ 3867 462\\ 3874 260\\ 3877 220\\ 3880 260\\ 3887 462\\ 3894 260\\ 3897 220\\
3900 260\\ 3907 462\\ 3914 260\\ 3917 220\\ 3920 260\\ 3927 462\\ 3934 260\\ 3937 220\\ 3940 260\\ 3947 462\\ 3954 260\\ 3957 220\\ 3960 260\\ 3967 462\\ 3974 260\\ 3977 220\\ 3980 260\\ 3987 462\\ 3994 260\\ 3997 220\\
4000 260\\
}\predtab

\pgfplotsset{
  mat/.style={
    scale only axis,
    axis line style={black!60, line width=0.5pt},
    grid=major,
    major grid style={black!13, line width=0.5pt},
    tick align=inside, tick pos=both,
    major tick length=2.5pt,
    every tick/.style={black!60, line width=0.5pt},
    tick label style={font=\fticks},
    /pgf/number format/assume math mode=true,
    /pgf/number format/1000 sep={},
    label style={font=\flabel},
    xlabel style={at={(axis description cs:0.5,0)}, anchor=center, yshift=-18.5pt},
    legend style={at={(1,1)}, anchor=north east, draw=black, line width=0.5pt,
      fill=white, font=\flegend, inner xsep=1.5pt, inner ysep=0.5pt,
      row sep=-2pt, legend cell align=left},
    legend image code/.code={\draw[#1, line width=1pt] (0pt,0pt) -- (23pt,0pt);},
  },
  ts/.style={no markers, line width=0.9pt, line join=round},
}

\begin{document}
\begin{tikzpicture}
\useasboundingbox (0,0) rectangle (703pt,-452pt);

% (a) prey
\begin{axis}[mat, at={(30pt,-3pt)}, anchor=north west,
  width=300pt, height=160pt,
  xmin=0, xmax=4000, ymin=0, ymax=200,
  xtick={0,500,...,4000}, ytick={0,20,...,200},
  xlabel={t (days)}, ylabel={N(t)},
  ylabel style={at={(axis description cs:-0.0833,0.5)}, anchor=center}]
\addplot[ts, mblue] table[x=t, y=y] {\preytab};
\addlegendentry{prey}
\end{axis}

% (b) predator
\begin{axis}[mat, at={(384pt,-4pt)}, anchor=north west,
  width=295pt, height=159pt,
  xmin=0, xmax=4000, ymin=0, ymax=500,
  xtick={0,500,...,4000}, ytick={0,50,...,500},
  xlabel={t (days)}, ylabel={P(t)},
  ylabel style={at={(axis description cs:-0.0847,0.5)}, anchor=center}]
\addplot[ts, morange] table[x=t, y=y] {\predtab};
\addlegendentry{predator}
\end{axis}

% (c) both
\begin{axis}[mat, at={(29pt,-244pt)}, anchor=north west,
  width=300pt, height=160pt,
  xmin=0, xmax=4000, ymin=0, ymax=500,
  xtick={0,500,...,4000}, ytick={0,50,...,500},
  xlabel={t (days)}, ylabel={N(t), P(t)},
  ylabel style={at={(axis description cs:-0.077,0.5)}, anchor=center}]
\addplot[ts, mblue] table[x=t, y=y] {\preytab};
\addlegendentry{prey}
\addplot[ts, morange] table[x=t, y=y] {\predtab};
\addlegendentry{predator}
\end{axis}

% (d) phase portrait
\begin{axis}[mat, at={(385pt,-242pt)}, anchor=north west,
  width=311pt, height=158pt,
  xmin=0, xmax=200, ymin=0, ymax=500,
  xtick={0,20,...,200}, ytick={0,50,...,500},
  xlabel={N(t)}, ylabel={P(t)},
  ylabel style={at={(axis description cs:-0.0627,0.5)}, anchor=center}]
\addplot[no markers, mblue, line width=0.9pt, line join=round] coordinates {
(10,5) (60,5.5) (120,6.5) (170,8) (190,9) (196,10.5) (198,13)
};
\addplot[no markers, mblue, line width=0.9pt, smooth, tension=0.5] coordinates {
(198,13)
(194,45) (190,84) (185,118) (180,153) (174,197) (168,240) (160,292) (151,337)
(145,358) (139,374) (131,391) (122,412) (112,432) (102,448) (92,459) (84,464)
(74,461) (64,453) (56,444) (47,428) (39,404) (31,375) (24,346) (17,316)
(12.5,290) (9.5,265) (8.3,245) (8.6,232) (10.5,221) (14,212) (20,205) (30,201)
(40,200) (60,204) (80,209) (93,216) (100,220) (112,229) (122,240) (130,250)
(136,259) (140.5,272) (143,286) (144,300) (142.5,320) (138,342) (131,368)
(123,394) (114,418) (105,438) (96,452) (88,460) (84,463)
(74,460) (64,452) (56,443) (47,427) (39,403) (31,375) (24,346) (17.5,316)
(13,290) (10.5,265) (9.6,248) (10,236) (12,226) (16,218) (24,212) (35,209)
(50,210) (70,214) (90,221) (108,232) (122,246) (132,264) (138.5,283) (141,303)
(140,324) (136,348) (130,372) (122,398) (113,422) (104,440) (95,453) (84,463)
(74,460) (64,452) (56,443) (47,427) (39,403) (31,375) (24,346) (18,316)
(13.5,290) (11,265) (10.4,250) (11,238) (13,229) (17,222) (26,216) (40,215)
(60,218) (80,225) (100,236) (117,250) (129,268) (136,288) (139,308) (137.5,333)
(132,360) (125,388) (116,414) (106,437) (96,452) (84,463)
(74,460) (64,452) (56,443) (47,427) (39,403) (31,375) (24,346) (18,316)
(14,290) (11.8,266) (11.2,250) (11.8,238) (13.5,230) (18,224) (27,220) (40,219)
(60,222) (80,229) (100,239) (118,254) (130,274) (136.5,292) (138.3,312) (136.5,338)
(131,366) (124,392) (115,418) (105,439) (95,454) (84,463)
(74,460) (64,452) (56,443) (47,427) (39,403) (31,375) (24,346) (18.3,316)
(14.2,290) (12,266) (11.4,250) (12,238) (13.8,230) (18.5,224) (27,221) (40,220)
(60,223) (80,230) (100,240) (118,255) (130,275) (136,293) (137.8,312) (136,338)
(131,366) (124,392) (115,418) (105,439) (95,454) (84,463)
};
\end{axis}

% captions
\node[font=\fontsize{14.4}{17}\selectfont] at (178.5pt,-207pt) {(a)\hskip0.7em Prey trajectories.};
\node[font=\fontsize{14.4}{17}\selectfont] at (537.5pt,-207pt) {(b)\hskip0.7em Predator trajectories.};
\node[font=\fontsize{14.4}{17}\selectfont] at (178.75pt,-443.5pt) {(c)\hskip0.7em Prey and Predator trajectories.};
\node[font=\fontsize{14.4}{17}\selectfont] at (537.75pt,-443.5pt) {(d)\hskip0.7em phase portrait.};
\end{tikzpicture}
\end{document}
